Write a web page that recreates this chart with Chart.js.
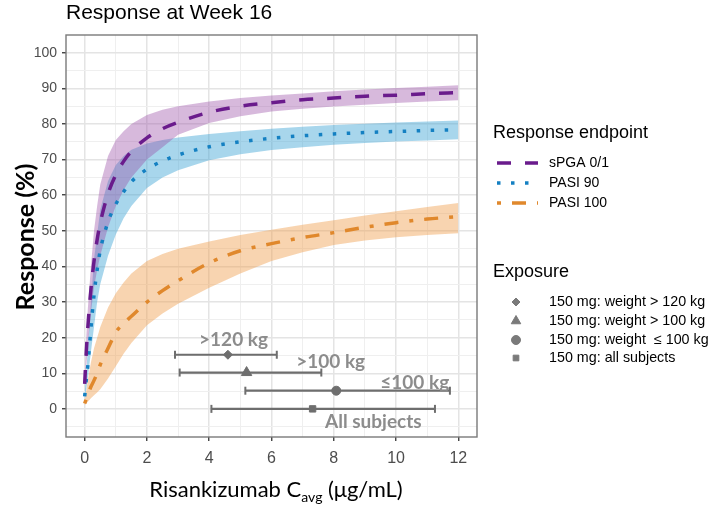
<!DOCTYPE html>
<html>
<head>
<meta charset="utf-8">
<script src="https://cdn.jsdelivr.net/npm/chart.js@4.4.1/dist/chart.umd.min.js"></script>
<style>
  body { margin: 0; background: #fff; }
  canvas { display: block; }
</style>
</head>
<body>
<canvas id="resp" width="709" height="505"></canvas>
<script>
// concentration grid (ug/mL)
const cavg = [0, 0.05, 0.1, 0.2, 0.3, 0.4, 0.5, 0.75, 1, 1.25, 1.5, 2, 2.5, 3, 4, 5, 6, 7, 8, 9, 10, 11, 12];

// sPGA 0/1
const spgaMed = [7, 15.7, 22.8, 33.5, 41.5, 47.5, 52.2, 60.4, 65.7, 69.5, 72.3, 76.1, 78.7, 80.5, 83.3, 85, 86, 86.8, 87.3, 87.8, 88.1, 88.5, 88.8];
const spgaLo = [6, 12, 17, 27, 34, 39, 43, 51, 57, 61.5, 65, 70, 73.5, 77, 80.3, 82.2, 83.5, 84.3, 84.9, 85.4, 85.9, 86.3, 86.7];
const spgaHi = [8, 20, 28, 40, 50, 57, 63, 71, 75.5, 78, 80, 82.5, 84, 85, 86.3, 87.3, 88, 88.6, 89.2, 89.7, 90.1, 90.5, 90.9];

// PASI 90
const pasi90Med = [3.5, 8, 12, 22.5, 32, 39, 44.5, 52.5, 57.5, 61, 63.8, 67.3, 69.6, 71.3, 73.6, 75, 76, 76.7, 77.2, 77.6, 77.9, 78.2, 78.4];
const pasi90Lo = [2.5, 5.5, 8.5, 16, 23, 30, 35, 43, 49, 53.5, 57, 62, 65, 67, 69.8, 71.5, 72.7, 73.5, 74.2, 74.7, 75.1, 75.4, 75.7];
const pasi90Hi = [4.5, 10, 17, 30, 42, 49, 56, 64, 68.5, 71, 72.8, 74.5, 75.5, 76.2, 77.2, 78, 78.7, 79.2, 79.7, 80.1, 80.4, 80.7, 81];

// PASI 100
const pasi100Med = [1.5, 2.8, 4, 6.2, 8, 10, 12.4, 17, 21.5, 24, 26, 30, 33.2, 36, 41, 44.4, 46.4, 48.1, 49.5, 51, 52.3, 53.3, 54];
const pasi100Lo = [1, 1.5, 2, 3, 3.8, 4.6, 5.5, 8.5, 12, 15.5, 18.5, 23.5, 26.8, 29.5, 34, 38, 41.5, 44, 46, 47.3, 48.2, 48.8, 49.3];
const pasi100Hi = [2, 5, 8, 13, 17, 20, 23, 28.5, 32.5, 35.5, 38, 41.5, 43.5, 45, 47, 48.8, 50.3, 51.7, 53, 54.3, 55.5, 56.7, 57.8];

const endpointNames = ['sPGA 0/1', 'PASI 90', 'PASI 100'];

// exposure (Cavg median and range) for 150 mg groups
const exposureNames = ['>120 kg', '>100 kg', '\u2264100 kg', 'All subjects'];
const exposureLegend = ['150 mg: weight > 120 kg', '150 mg: weight > 100 kg', '150 mg: weight  \u2264 100 kg', '150 mg: all subjects'];
const exposureRow = [15.2, 10.2, 5.1, 0];
const exposureMid = [4.6, 5.2, 8.08, 7.32];
const exposureLo = [2.9, 3.05, 5.16, 4.07];
const exposureHi = [6.17, 7.6, 11.73, 11.25];
const exposureShape = ['rectRot', 'triangle', 'circle', 'rect'];
const labelX = [4.78, 7.9, 10.6, 9.27];
const labelY = [19.4, 13.3, 7.3, -3.6];

const xTicks = [0, 1, 2, 3, 4, 5, 6, 7, 8, 9, 10, 11, 12];
const yTicks = [-5, 0, 5, 10, 15, 20, 25, 30, 35, 40, 45, 50, 55, 60, 65, 70, 75, 80, 85, 90, 95, 100];

const lineCol = ['#6a1b8c', '#1480c2', '#e0882c'];
const bandCol = ['rgba(155,79,168,0.4)', 'rgba(62,163,212,0.45)', 'rgba(240,160,80,0.45)'];
const dashes = [[14, 14], [3.5, 10.5], [4, 11, 14, 11]];
const grey = '#6e6e6e';

function pts(arr) {
  return cavg.map((x, i) => ({ x: x, y: arr[i] }));
}

function band(lo, hi, col) {
  return [
    { data: pts(lo), borderWidth: 0, pointRadius: 0, fill: false, order: 5 },
    { data: pts(hi), borderWidth: 0, pointRadius: 0, fill: '-1', backgroundColor: col, order: 5 }
  ];
}

function curve(arr, i) {
  return {
    data: pts(arr), borderColor: lineCol[i], borderWidth: 3.5, borderDash: dashes[i],
    borderCapStyle: 'butt', pointRadius: 0, fill: false, cubicInterpolationMode: 'monotone', order: 1
  };
}

var datasets = [].concat(
  band(spgaLo, spgaHi, bandCol[0]),
  band(pasi90Lo, pasi90Hi, bandCol[1]),
  band(pasi100Lo, pasi100Hi, bandCol[2]),
  [curve(spgaMed, 0), curve(pasi90Med, 1), curve(pasi100Med, 2)]
);

// whiskers, with end caps as rotated line points
for (let i = 0; i < exposureRow.length; i++) {
  datasets.push({
    data: [{ x: exposureLo[i], y: exposureRow[i] }, { x: exposureHi[i], y: exposureRow[i] }],
    borderColor: grey, borderWidth: 2.2, pointStyle: 'line', pointRotation: 90,
    pointRadius: 4, pointBorderWidth: 2, pointBorderColor: grey, fill: false, order: 0
  });
}
datasets.push({
  data: exposureMid.map((x, i) => ({ x: x, y: exposureRow[i] })),
  showLine: false, pointStyle: exposureShape, pointRadius: [4.5, 6, 4.5, 4.5],
  pointBackgroundColor: grey, pointBorderColor: grey, pointBorderWidth: 1, order: -1
});

function txt(ctx, s, x, y, font, col, align) {
  ctx.font = font;
  ctx.fillStyle = col;
  ctx.textAlign = align || 'left';
  ctx.textBaseline = 'middle';
  ctx.fillText(s, x, y);
}

const decor = {
  id: 'decor',
  afterDatasetsDraw(chart) {
    const { ctx, chartArea: a, scales: { x, y } } = chart;
    ctx.save();
    exposureNames.forEach((t, i) => {
      txt(ctx, t, x.getPixelForValue(labelX[i]), y.getPixelForValue(labelY[i]), 'bold 19px Lato', '#8c8c8c', 'center');
    });
    ctx.strokeStyle = '#7a7a7a';
    ctx.lineWidth = 1.4;
    ctx.strokeRect(a.left, a.top, a.right - a.left, a.bottom - a.top);
    ctx.restore();
  },
  afterDraw(chart) {
    const { ctx, chartArea: a } = chart;
    ctx.save();
    // title
    txt(ctx, 'Response at Week 16', a.left, 13, '21px "Liberation Sans"', '#000');

    // y title
    ctx.save();
    ctx.translate(26, 237);
    ctx.rotate(-Math.PI / 2);
    txt(ctx, 'Response (%)', 0, 0, 'bold 25px Lato', '#000', 'center');
    ctx.restore();

    // x title with subscript
    const f1 = '22px Lato', f2 = '14px Lato';
    const p1 = 'Risankizumab C', p2 = 'avg', p3 = ' (\u03bcg/mL)';
    ctx.font = f1;
    const w1 = ctx.measureText(p1).width, w3 = ctx.measureText(p3).width;
    ctx.font = f2;
    const w2 = ctx.measureText(p2).width;
    let sx = 276 - (w1 + w2 + w3) / 2;
    txt(ctx, p1, sx, 490, f1, '#000');
    txt(ctx, p2, sx + w1, 497, f2, '#000');
    txt(ctx, p3, sx + w1 + w2, 490, f1, '#000');

    // legend: response endpoint
    const lx = 493;
    txt(ctx, 'Response endpoint', lx, 133, '18px "Liberation Sans"', '#000');
    const rowY = [163, 183, 203];
    endpointNames.forEach((n, i) => {
      ctx.beginPath();
      ctx.setLineDash(dashes[i]);
      ctx.lineCap = 'butt';
      ctx.strokeStyle = lineCol[i];
      ctx.lineWidth = 3.5;
      ctx.moveTo(497, rowY[i]);
      ctx.lineTo(538, rowY[i]);
      ctx.stroke();
      ctx.setLineDash([]);
      txt(ctx, n, 549, rowY[i], '14px "Liberation Sans"', '#000');
    });

    // legend: exposure
    txt(ctx, 'Exposure', lx, 272, '18px "Liberation Sans"', '#000');
    const eY = [302, 321, 340, 358];
    const eR = [4, 5.5, 4.5, 4];
    exposureLegend.forEach((n, i) => {
      ctx.fillStyle = '#7a7a7a';
      ctx.strokeStyle = '#7a7a7a';
      ctx.lineWidth = 1;
      Chart.helpers.drawPoint(ctx, { pointStyle: exposureShape[i], radius: eR[i], rotation: 0, borderWidth: 1 }, 516, eY[i]);
      txt(ctx, n, 549, eY[i], '14.3px "Liberation Sans"', '#000');
    });
    ctx.restore();
  }
};

const isMajorX = v => v % 2 === 0;
const isMajorY = v => v >= 0 && v % 10 === 0;

new Chart(document.getElementById('resp'), {
  type: 'line',
  data: { datasets: datasets },
  options: {
    responsive: false,
    animation: false,
    devicePixelRatio: 1,
    layout: { padding: { left: 0, top: 35, right: 232, bottom: 0 } },
    plugins: {
      legend: { display: false },
      tooltip: { enabled: false },
      filler: { propagate: false }
    },
    scales: {
      x: {
        type: 'linear', min: -0.6, max: 12.6,
        afterBuildTicks: s => { s.ticks = xTicks.map(v => ({ value: v })); },
        afterFit: s => { s.height = 68; },
        ticks: {
          autoSkip: false, maxRotation: 0, padding: 8,
          color: '#4d4d4d', font: { family: 'Liberation Sans', size: 16 },
          callback: v => (isMajorX(v) ? v : '')
        },
        grid: {
          color: c => (isMajorX(c.tick.value) ? '#e4e4e4' : '#efefef'),
          lineWidth: c => (isMajorX(c.tick.value) ? 1.5 : 1),
          tickColor: c => (isMajorX(c.tick.value) ? '#333' : 'rgba(0,0,0,0)'),
          tickLength: 4, tickWidth: 1.3
        },
        border: { display: false }
      },
      y: {
        type: 'linear', min: -7.9, max: 105,
        afterBuildTicks: s => { s.ticks = yTicks.map(v => ({ value: v })); },
        afterFit: s => { s.width = 66; },
        ticks: {
          autoSkip: false, padding: 5,
          color: '#4d4d4d', font: { family: 'Liberation Sans', size: 14 },
          callback: v => (isMajorY(v) ? v : '')
        },
        grid: {
          color: c => (isMajorY(c.tick.value) ? '#e4e4e4' : '#efefef'),
          lineWidth: c => (isMajorY(c.tick.value) ? 1.5 : 1),
          tickColor: c => (isMajorY(c.tick.value) ? '#333' : 'rgba(0,0,0,0)'),
          tickLength: 4, tickWidth: 1.3
        },
        border: { display: false }
      }
    }
  },
  plugins: [decor]
});
</script>
</body>
</html>
